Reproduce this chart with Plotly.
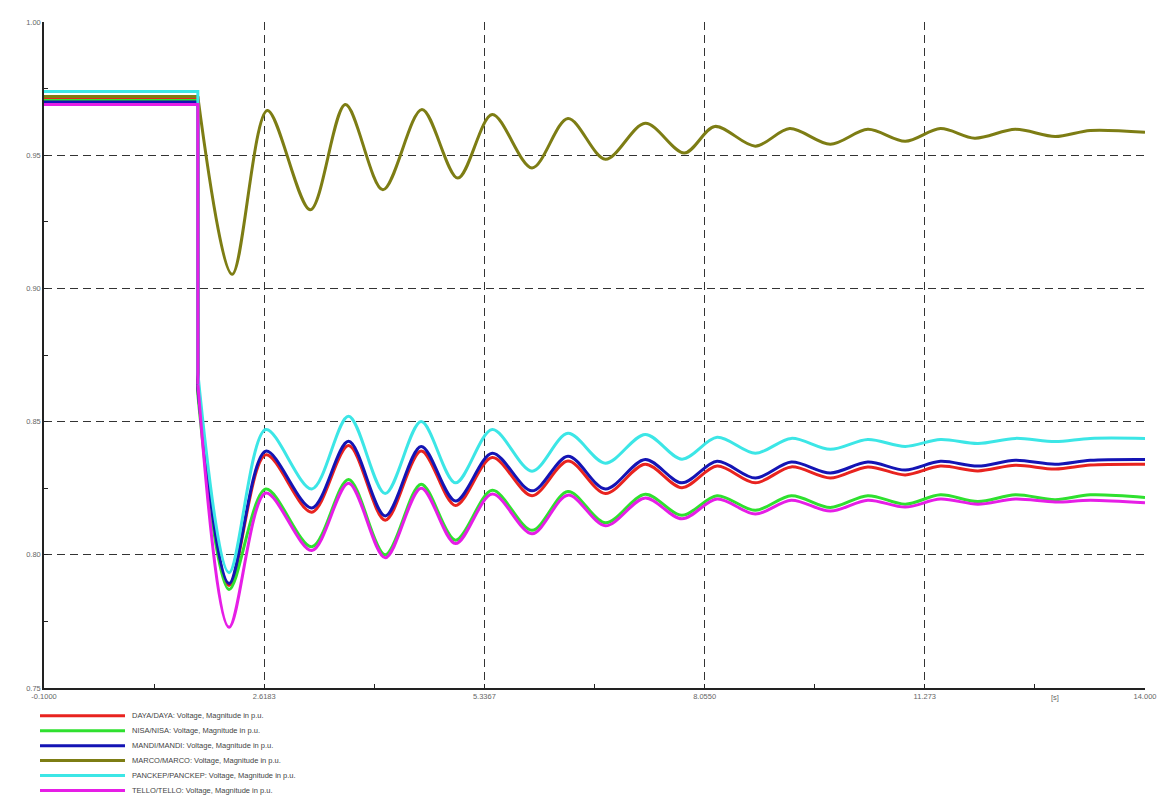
import plotly.graph_objects as go

# ---- data ----
# time axis (s) shared by the five lower bus voltages
t_low = [-0.1, 1.0, 1.87, 1.871, 2.27, 2.74, 3.33, 3.80, 4.27, 4.73, 5.17, 5.64, 6.15,
         6.61, 7.09, 7.60, 8.07, 8.52, 9.01, 9.47, 9.97, 10.45, 10.93, 11.38, 11.86,
         12.34, 12.85, 13.30, 14.0]

daya = [0.9717, 0.9717, 0.9717, 0.862, 0.7885, 0.8375, 0.8160, 0.8410, 0.8130, 0.8390,
        0.8185, 0.8365, 0.8222, 0.8352, 0.8230, 0.8340, 0.8252, 0.8333, 0.8270, 0.8330,
        0.8288, 0.8330, 0.8300, 0.8333, 0.8315, 0.8336, 0.8322, 0.8337, 0.8340]
nisa = [0.9705, 0.9705, 0.9705, 0.860, 0.7870, 0.8247, 0.8030, 0.8283, 0.8000, 0.8265,
        0.8055, 0.8242, 0.8092, 0.8238, 0.8120, 0.8227, 0.8148, 0.8222, 0.8167, 0.8222,
        0.8178, 0.8222, 0.8190, 0.8225, 0.8200, 0.8225, 0.8207, 0.8225, 0.8215]
mandi = [0.9700, 0.9700, 0.9700, 0.862, 0.7892, 0.8389, 0.8176, 0.8426, 0.8146, 0.8407,
         0.8202, 0.8381, 0.8240, 0.8370, 0.8247, 0.8358, 0.8270, 0.8351, 0.8288, 0.8348,
         0.8307, 0.8348, 0.8318, 0.8351, 0.8333, 0.8355, 0.8340, 0.8355, 0.8358]
panckep = [0.9739, 0.9739, 0.9739, 0.868, 0.7933, 0.8470, 0.8247, 0.8520, 0.8230, 0.8500,
           0.8270, 0.8470, 0.8314, 0.8456, 0.8344, 0.8452, 0.8359, 0.8441, 0.8381, 0.8437,
           0.8396, 0.8433, 0.8407, 0.8433, 0.8418, 0.8437, 0.8425, 0.8437, 0.8437]
tello = [0.9690, 0.9690, 0.9690, 0.864, 0.7728, 0.8232, 0.8016, 0.8269, 0.7989, 0.8250,
         0.8042, 0.8228, 0.8079, 0.8224, 0.8109, 0.8213, 0.8135, 0.8209, 0.8153, 0.8205,
         0.8164, 0.8205, 0.8179, 0.8209, 0.8190, 0.8209, 0.8198, 0.8205, 0.8195]

# upper bus (own time stamps)
t_marco = [-0.1, 1.0, 1.87, 2.31, 2.76, 3.31, 3.76, 4.24, 4.74, 5.20, 5.64, 6.15, 6.61,
           7.09, 7.60, 8.10, 8.49, 9.01, 9.45, 9.97, 10.45, 10.93, 11.38, 11.82, 12.34,
           12.85, 13.30, 14.0]
marco = [0.9720, 0.9720, 0.9720, 0.9053, 0.9668, 0.9295, 0.9690, 0.9370, 0.9672, 0.9414,
         0.9653, 0.9452, 0.9638, 0.9485, 0.9620, 0.9508, 0.9608, 0.9534, 0.9600, 0.9541,
         0.9597, 0.9552, 0.9600, 0.9564, 0.9597, 0.9570, 0.9593, 0.9586]

names = ["DAYA/DAYA: Voltage, Magnitude in p.u.",
         "NISA/NISA: Voltage, Magnitude in p.u.",
         "MANDI/MANDI: Voltage, Magnitude in p.u.",
         "MARCO/MARCO: Voltage, Magnitude in p.u.",
         "PANCKEP/PANCKEP: Voltage, Magnitude in p.u.",
         "TELLO/TELLO: Voltage, Magnitude in p.u."]
colors = ["#e8231f", "#2fe02f", "#1414b4", "#7d7d14", "#3ce6e6", "#e61ee6"]

x_tickvals = [-0.1, 2.72, 5.54, 8.36, 11.18, 14.0]
x_ticktext = ["-0.1000", "2.6183", "5.3367", "8.0550", "11.273", "14.000"]
y_tickvals = [0.75, 0.80, 0.85, 0.90, 0.95, 1.00]
y_ticktext = ["0.75", "0.80", "0.85", "0.90", "0.95", "1.00"]

# (time, values, index where the pre-fault/step part ends and the smooth part starts)
series = [(t_low, daya, 3), (t_low, nisa, 3), (t_low, mandi, 3), (t_marco, marco, 2),
          (t_low, panckep, 3), (t_low, tello, 3)]

FONT = "Liberation Sans, Arial, sans-serif"

fig = go.Figure()
for (tx, vy, k), nm, col in zip(series, names, colors):
    # pre-fault plateau and the instantaneous step (straight segments)
    fig.add_trace(go.Scatter(x=tx[:k + 1], y=vy[:k + 1], name=nm, legendgroup=nm,
                             showlegend=False, mode="lines", hoverinfo="skip",
                             line=dict(color=col, width=3, shape="linear")))
    # post-fault oscillation (smooth)
    fig.add_trace(go.Scatter(x=tx[k:], y=vy[k:], name=nm, legendgroup=nm,
                             showlegend=False, mode="lines",
                             line=dict(color=col, width=3, shape="spline", smoothing=0.9)))

axis_common = dict(showline=True, linecolor="#222", linewidth=1.5, mirror=False,
                   showgrid=True, gridcolor="#333", griddash="8px,5px", gridwidth=1,
                   zeroline=False, ticks="inside", ticklen=4, tickcolor="#222",
                   tickfont=dict(family=FONT, size=7.5, color="#666"),
                   minor=dict(ticks="inside", ticklen=4, tickcolor="#222", showgrid=False))

fig.update_xaxes(range=[-0.1, 14.0], tickmode="array", tickvals=x_tickvals,
                 ticktext=x_ticktext, minor_tickvals=[1.31, 4.13, 6.95, 9.77, 12.59],
                 **axis_common)
fig.update_yaxes(range=[0.75, 1.00], tickmode="array", tickvals=y_tickvals,
                 ticktext=y_ticktext, minor_tickvals=[0.775, 0.825, 0.875, 0.925, 0.975],
                 **axis_common)

fig.add_annotation(text="[s]", xref="x", yref="paper", x=12.85, y=0, yshift=-9,
                   xanchor="center", yanchor="middle",
                   showarrow=False, font=dict(family=FONT, size=7.5, color="#666"))

# legend block below the plot: coloured line sample + label, one row per series
PLOT_W, PLOT_H = 1101, 670
for i, (nm, col) in enumerate(zip(names, colors)):
    ypx = 28 + 15 * i               # distance below the x axis, in px
    yp = -ypx / PLOT_H
    fig.add_shape(type="line", xref="paper", yref="paper",
                  x0=-4 / PLOT_W, x1=81 / PLOT_W, y0=yp, y1=yp,
                  line=dict(color=col, width=3))
    fig.add_annotation(text=nm, xref="paper", yref="paper", x=86 / PLOT_W, y=yp,
                       xanchor="left", yanchor="middle", showarrow=False,
                       font=dict(family=FONT, size=7.5, color="#444"))

fig.update_layout(
    width=1160, height=790,
    margin=dict(l=36, r=23, t=10, b=110),
    paper_bgcolor="white", plot_bgcolor="white",
    showlegend=False,
)

fig.write_html("out.html")
